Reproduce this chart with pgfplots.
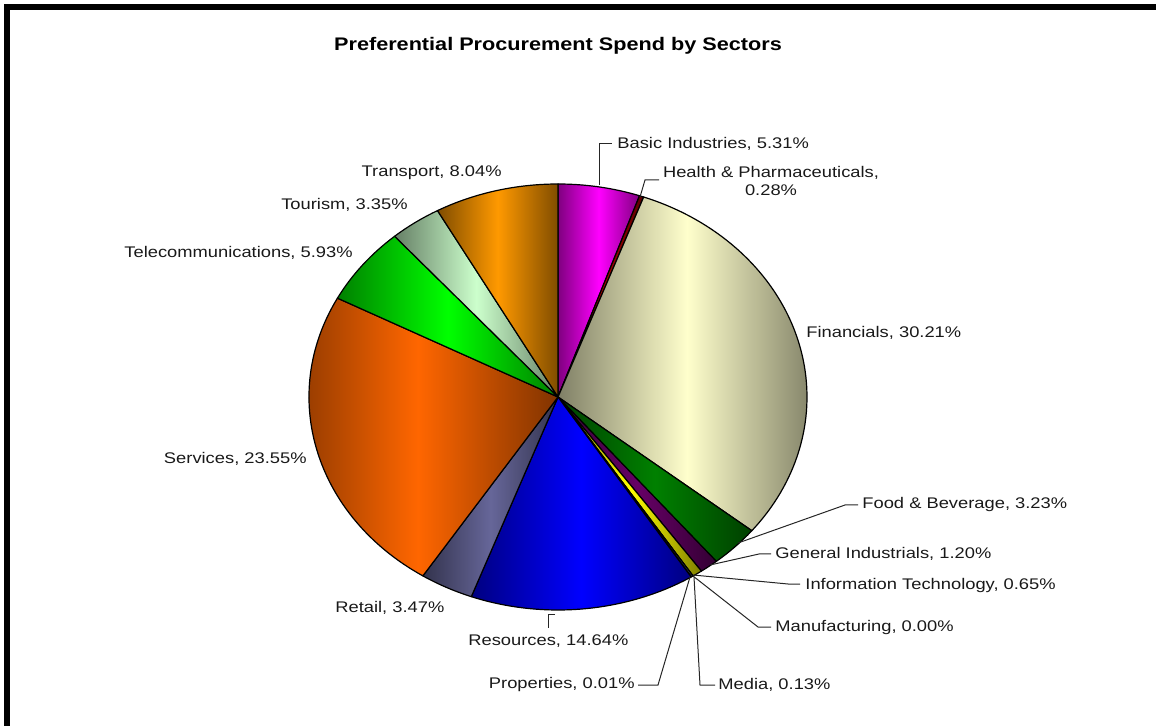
\documentclass[border=0pt]{standalone}
\usepackage{pgfplots}
\pgfplotsset{compat=1.18}
\usepackage{pgfplotstable}
\usepackage{fontspec}
\setmainfont{Liberation Sans}[FakeStretch=1.19]

\definecolor{cBasic}{HTML}{FF00FF}
\definecolor{cHealth}{HTML}{B00000}
\definecolor{cFin}{HTML}{FFFFCC}
\definecolor{cFood}{HTML}{008000}
\definecolor{cGen}{HTML}{660066}
\definecolor{cIT}{HTML}{FFFF00}
\definecolor{cManu}{HTML}{808080}
\definecolor{cMedia}{HTML}{6699CC}
\definecolor{cProp}{HTML}{3366FF}
\definecolor{cRes}{HTML}{0000FF}
\definecolor{cRetail}{HTML}{666699}
\definecolor{cServ}{HTML}{FF6600}
\definecolor{cTel}{HTML}{00FF00}
\definecolor{cTour}{HTML}{CCFFCC}
\definecolor{cTrans}{HTML}{FF9900}

\tikzset{lbl/.style={inner sep=0pt, font=\fontsize{7.7}{9}\selectfont, text=black!90},
  ld/.style={black!85, line width=0.5pt}}

\pgfplotstableread[col sep=comma]{
sector,share,col
Basic Industries,5.31,cBasic
Health & Pharmaceuticals,0.28,cHealth
Financials,30.21,cFin
Food & Beverage,3.23,cFood
General Industrials,1.20,cGen
Information Technology,0.65,cIT
Manufacturing,0.00,cManu
Media,0.13,cMedia
Properties,0.01,cProp
Resources,14.64,cRes
Retail,3.47,cRetail
Services,23.55,cServ
Telecommunications,5.93,cTel
Tourism,3.35,cTour
Transport,8.04,cTrans
}\piedata

\begin{document}
\begin{tikzpicture}
\begin{axis}[hide axis, scale only axis, width=578pt, height=363pt,
  xmin=0, xmax=1156, ymin=0, ymax=726, y dir=reverse, clip=false]
% bounding area and frame
\path (axis cs:0,0) rectangle (axis cs:1156,726);
\fill[black] (axis cs:4,4) rectangle (axis cs:10,726);
\fill[black] (axis cs:4,4) rectangle (axis cs:1156,10);
% pie
\gdef\cum{0}
\foreach \i in {0,...,14}{
  \pgfplotstablegetelem{\i}{share}\of\piedata \let\v\pgfplotsretval
  \pgfplotstablegetelem{\i}{col}\of\piedata \let\c\pgfplotsretval
  \pgfmathsetmacro\aa{90-3.6*\cum}
  \pgfmathsetmacro\nc{\cum+\v}
  \pgfmathsetmacro\bb{90-3.6*\nc}
  \global\let\cum\nc
  \edef\temp{\noexpand\draw[line width=0.6pt, line join=round, draw=black, left color=\c!50!black, right color=\c!50!black, middle color=\c] (axis cs:558,397) -- ++(\aa:124.5pt and 106.5pt) arc[start angle=\aa, end angle=\bb, x radius=124.5pt, y radius=106.5pt] -- cycle;}
  \temp
}
% title
\node[inner sep=0pt, font=\fontsize{9.1}{11}\selectfont\bfseries] at (axis cs:558,46) {Preferential Procurement Spend by Sectors};
% labels
\node[lbl, anchor=west] at (axis cs:617,144) {Basic Industries, 5.31\%};
\node[lbl, align=center] at (axis cs:771,181) {Health \& Pharmaceuticals,\\0.28\%};
\node[lbl, anchor=east] at (axis cs:502,173) {Transport, 8.04\%};
\node[lbl, anchor=east] at (axis cs:408,205) {Tourism, 3.35\%};
\node[lbl, anchor=east] at (axis cs:353,253) {Telecommunications, 5.93\%};
\node[lbl, anchor=west] at (axis cs:806,333) {Financials, 30.21\%};
\node[lbl, anchor=east] at (axis cs:307,459) {Services, 23.55\%};
\node[lbl, anchor=west] at (axis cs:862,505) {Food \& Beverage, 3.23\%};
\node[lbl, anchor=west] at (axis cs:775,554) {General Industrials, 1.20\%};
\node[lbl, anchor=west] at (axis cs:805,586) {Information Technology, 0.65\%};
\node[lbl, anchor=west] at (axis cs:775,628) {Manufacturing, 0.00\%};
\node[lbl, anchor=west] at (axis cs:718,685) {Media, 0.13\%};
\node[lbl, anchor=east] at (axis cs:635,685) {Properties, 0.01\%};
\node[lbl, anchor=west] at (axis cs:468,641) {Resources, 14.64\%};
\node[lbl, anchor=west] at (axis cs:335,608) {Retail, 3.47\%};
% leader lines
\draw[ld] (axis cs:599,185) -- (axis cs:599,144) -- (axis cs:612,144);
\draw[ld] (axis cs:640,197) -- (axis cs:645,180) -- (axis cs:659,180);
\draw[ld] (axis cs:738,543) -- (axis cs:845,505) -- (axis cs:858,505);
\draw[ld] (axis cs:710,565) -- (axis cs:759,554) -- (axis cs:771,554);
\draw[ld] (axis cs:693,575) -- (axis cs:788,584) -- (axis cs:800,584);
\draw[ld] (axis cs:693,576) -- (axis cs:758,627) -- (axis cs:771,627);
\draw[ld] (axis cs:694,577) -- (axis cs:700,685) -- (axis cs:715,685);
\draw[ld] (axis cs:690,577) -- (axis cs:658,685) -- (axis cs:638,685);
\draw[ld] (axis cs:555,614) -- (axis cs:548,614) -- (axis cs:548,628);
\end{axis}
\end{tikzpicture}
\end{document}
